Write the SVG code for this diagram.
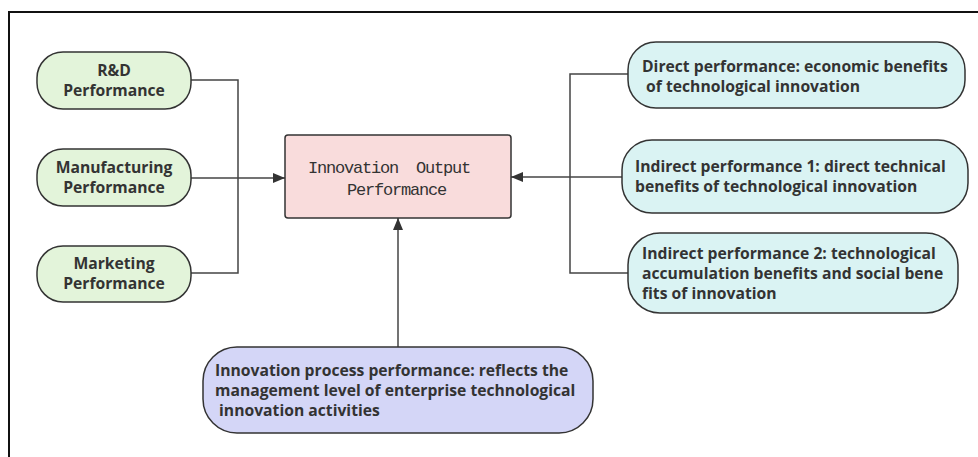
<svg xmlns="http://www.w3.org/2000/svg" width="978" height="457" viewBox="0 0 978 457">
  <defs>
    <style>
      .frame { fill: none; stroke: #111; stroke-width: 2; }
      .node { stroke: #333; stroke-width: 1.5; }
      .green { fill: #e3f4da; }
      .cyan { fill: #daf3f3; }
      .pink { fill: #f9dcdc; }
      .lav { fill: #d4d6f7; }
      .lbl { font-family: "Open Sans", "Liberation Sans", sans-serif; font-weight: bold; font-size: 15.7px; fill: #333; white-space: pre; }
      .mid { text-anchor: middle; }
      .mono { font-family: "Liberation Mono", "DejaVu Sans Mono", monospace; font-size: 17px; letter-spacing: -1.2px; fill: #333; white-space: pre; }
      .conn { fill: none; stroke: #444; stroke-width: 1.5; }
    </style>
    <marker id="arrow" viewBox="0 0 12 10" refX="12" refY="5" markerWidth="12" markerHeight="10" markerUnits="userSpaceOnUse" orient="auto">
      <path d="M0,0 L12,5 L0,10 z" fill="#333"/>
    </marker>
  </defs>

  <!-- outer frame (open to the right and bottom) -->
  <path class="frame" d="M978,12 H9 V457"/>

  <g id="connectors">
    <!-- left side bracket -->
    <path class="conn" d="M191,80 H238 V273 H191"/>
    <path class="conn" d="M191,178 H285" marker-end="url(#arrow)"/>
    <!-- right side bracket -->
    <path class="conn" d="M628,74 H570 V273 H628"/>
    <path class="conn" d="M622,177 H511" marker-end="url(#arrow)"/>
    <!-- bottom -->
    <path class="conn" d="M398,347 V218" marker-end="url(#arrow)"/>
  </g>

  <g id="rd">
    <rect class="node green" x="37" y="52" width="154" height="57" rx="26"/>
    <text class="lbl mid" x="114" y="76">R&amp;D</text>
    <text class="lbl mid" x="114" y="96">Performance</text>
  </g>

  <g id="manufacturing">
    <rect class="node green" x="37" y="149" width="154" height="57" rx="26"/>
    <text class="lbl mid" x="114" y="173">Manufacturing</text>
    <text class="lbl mid" x="114" y="193">Performance</text>
  </g>

  <g id="marketing">
    <rect class="node green" x="37" y="246" width="154" height="56" rx="26"/>
    <text class="lbl mid" x="114" y="269">Marketing</text>
    <text class="lbl mid" x="114" y="289">Performance</text>
  </g>

  <g id="output">
    <rect class="node pink" x="285" y="135" width="226" height="83" rx="3"/>
    <text class="mono" x="308" y="173">Innovation  Output</text>
    <text class="mono" x="347" y="195">Performance</text>
  </g>

  <g id="direct">
    <rect class="node cyan" x="628" y="42" width="337" height="66" rx="28"/>
    <text class="lbl" x="642" y="72">Direct performance: economic benefits</text>
    <text class="lbl" x="642" y="92"> of technological innovation</text>
  </g>

  <g id="indirect1">
    <rect class="node cyan" x="622" y="140" width="346" height="73" rx="30"/>
    <text class="lbl" x="635" y="172">Indirect performance 1: direct technical</text>
    <text class="lbl" x="635" y="192">benefits of technological innovation</text>
  </g>

  <g id="indirect2">
    <rect class="node cyan" x="628" y="233" width="330" height="80" rx="32"/>
    <text class="lbl" x="642" y="259">Indirect performance 2: technological</text>
    <text class="lbl" x="642" y="279">accumulation benefits and social bene</text>
    <text class="lbl" x="642" y="299">fits of innovation</text>
  </g>

  <g id="process">
    <rect class="node lav" x="203" y="347" width="390" height="86" rx="34"/>
    <text class="lbl" x="215" y="376">Innovation process performance: reflects the</text>
    <text class="lbl" x="215" y="396">management level of enterprise technological</text>
    <text class="lbl" x="215" y="416"> innovation activities</text>
  </g>
</svg>
